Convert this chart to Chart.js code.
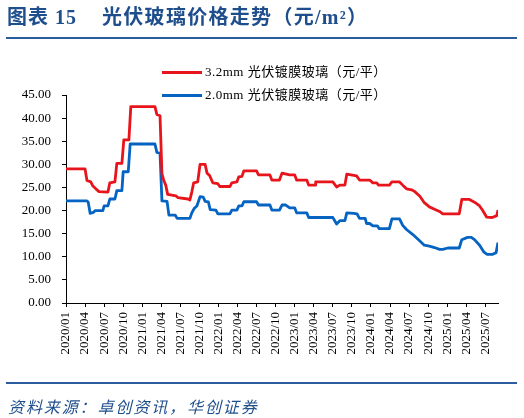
<!DOCTYPE html>
<html><head><meta charset="utf-8">
<script src="https://cdn.jsdelivr.net/npm/chart.js@4"></script>
<style>
html,body{margin:0;padding:0;background:#fff;}
#wrap{position:relative;width:524px;height:418px;overflow:hidden;background:#fff;}
canvas{position:absolute;left:0;top:0;}
.t{position:absolute;color:#1f4e8c;font-weight:bold;font-family:"Liberation Serif","Noto Sans CJK SC",serif;font-size:20px;top:5px;white-space:nowrap;line-height:24px;}
.rule{position:absolute;left:6px;width:511px;height:2px;background:#2b5c9e;}
.lg{position:absolute;left:162px;font-family:"Liberation Serif","Noto Sans CJK SC",serif;font-size:13px;letter-spacing:0.5px;color:#000;white-space:nowrap;line-height:16px;}
.lg i{display:inline-block;width:40px;height:3px;vertical-align:middle;margin-right:3px;position:relative;top:-1px;}
.src{position:absolute;left:8px;top:395px;font-family:"Noto Sans CJK SC",sans-serif;font-style:italic;font-size:16px;letter-spacing:1.9px;color:#1f4e8c;white-space:nowrap;line-height:22px;}
</style></head>
<body><div id="wrap">
<canvas id="c" width="524" height="418"></canvas>
<div class="t" style="left:7px;letter-spacing:1px;">图表 15</div>
<div class="t" style="left:102px;letter-spacing:1.3px;">光伏玻璃价格走势（元/m²）</div>
<div class="rule" style="top:37px;"></div>
<div class="lg" style="top:64px;"><i style="background:#e8141c"></i><span id="l1"></span></div>
<div class="lg" style="top:87px;"><i style="background:#0563c1"></i><span id="l2"></span></div>
<div class="rule" style="top:382px;"></div>
<div class="src">资料来源：卓创资讯，华创证券</div>
</div>
<script>
const seriesNames = ['3.2mm 光伏镀膜玻璃（元/平）', '2.0mm 光伏镀膜玻璃（元/平）'];
const tickLabels = ['2020/01','2020/04','2020/07','2020/10','2021/01','2021/04','2021/07','2021/10','2022/01','2022/04','2022/07','2022/10','2023/01','2023/04','2023/07','2023/10','2024/01','2024/04','2024/07','2024/10','2025/01','2025/04','2025/07'];

const redDates = ['2020/01/01','2020/04/01','2020/04/10','2020/04/28','2020/05/08','2020/05/22','2020/06/07','2020/07/19','2020/07/28','2020/08/22','2020/09/01','2020/09/25','2020/10/04','2020/10/28','2020/11/07','2021/03/01','2021/03/10','2021/03/25','2021/04/04','2021/04/13','2021/04/22','2021/05/01','2021/06/10','2021/06/19','2021/08/07','2021/08/16','2021/08/25','2021/09/04','2021/09/23','2021/10/04','2021/10/28','2021/11/07','2021/11/19','2021/12/04','2021/12/28','2022/01/07','2022/02/25','2022/03/04','2022/03/28','2022/04/07','2022/04/22','2022/05/01','2022/07/01','2022/07/10','2022/09/04','2022/09/13','2022/10/19','2022/11/01','2022/12/07','2023/01/01','2023/01/10','2023/02/28','2023/03/07','2023/04/07','2023/04/10','2023/07/01','2023/07/19','2023/08/04','2023/08/28','2023/09/07','2023/10/23','2023/11/07','2023/12/25','2024/01/10','2024/01/28','2024/02/07','2024/03/28','2024/04/10','2024/05/16','2024/06/01','2024/06/19','2024/07/13','2024/07/28','2024/08/22','2024/09/13','2024/10/07','2024/11/01','2024/11/25','2024/12/10','2025/02/28','2025/03/10','2025/04/16','2025/05/10','2025/06/04','2025/06/19','2025/07/07','2025/08/04','2025/08/25','2025/09/01'];
const redValues = [29.0,29.0,26.5,26.2,25.3,24.7,24.1,24.0,26.0,26.2,30.2,30.2,35.3,35.3,42.5,42.5,40.8,40.5,28.0,26.5,25.5,23.5,23.2,22.8,22.5,22.3,24.0,26.0,26.2,30.0,30.0,28.1,27.6,26.0,25.8,25.2,25.2,26.0,26.2,27.3,27.4,28.6,28.6,27.7,27.7,26.6,26.6,28.1,27.7,27.7,26.6,26.6,25.5,25.5,26.2,26.2,25.1,25.5,25.5,27.9,27.5,26.6,26.6,26.0,26.0,25.5,25.5,26.2,26.2,25.5,24.7,24.5,24.1,23.1,21.7,20.8,20.3,19.8,19.3,19.3,22.4,22.4,21.8,21.0,20.0,18.6,18.5,18.9,20.1];

const blueDates = ['2020/01/01','2020/04/10','2020/04/16','2020/04/25','2020/05/10','2020/05/19','2020/06/25','2020/07/01','2020/07/19','2020/07/28','2020/08/22','2020/09/01','2020/09/25','2020/10/01','2020/10/25','2020/11/04','2021/03/01','2021/03/10','2021/03/25','2021/04/04','2021/04/28','2021/05/07','2021/06/07','2021/06/16','2021/08/16','2021/08/25','2021/09/07','2021/09/19','2021/10/04','2021/10/19','2021/10/28','2021/11/13','2021/11/22','2021/12/19','2021/12/28','2022/02/25','2022/03/04','2022/03/28','2022/04/07','2022/04/22','2022/05/01','2022/07/01','2022/07/10','2022/09/04','2022/09/13','2022/10/19','2022/11/01','2022/11/19','2022/12/07','2023/01/01','2023/01/10','2023/02/28','2023/03/07','2023/07/01','2023/07/19','2023/08/04','2023/08/28','2023/09/07','2023/10/10','2023/10/25','2023/11/07','2023/12/04','2023/12/10','2023/12/25','2024/01/10','2024/02/01','2024/02/10','2024/03/28','2024/04/10','2024/05/16','2024/06/01','2024/06/19','2024/07/19','2024/08/22','2024/09/13','2024/10/07','2024/11/01','2024/11/25','2024/12/10','2025/01/04','2025/02/28','2025/03/10','2025/04/07','2025/04/25','2025/05/10','2025/06/04','2025/06/25','2025/07/10','2025/08/04','2025/08/22','2025/09/01'];
const blueValues = [22.1,22.1,21.8,19.4,19.6,20.0,20.0,21.0,21.0,22.5,22.5,24.3,24.3,28.4,28.4,34.4,34.4,32.6,32.4,22.1,22.0,19.0,19.0,18.3,18.3,19.5,20.5,21.0,23.0,22.9,22.0,21.9,20.2,20.1,19.3,19.3,20.1,20.1,21.0,21.0,21.9,21.9,21.2,21.2,20.1,20.1,21.2,21.2,20.6,20.6,19.5,19.5,18.5,18.5,17.1,17.8,17.8,19.5,19.4,19.3,18.3,18.3,17.2,17.2,16.7,16.7,16.1,16.1,18.2,18.2,16.8,15.9,14.8,13.4,12.5,12.3,12.0,11.6,11.6,11.9,11.9,13.7,14.2,14.2,13.7,12.5,11.0,10.5,10.5,10.9,13.1];

function toMonth(s){
  const p = s.split('/').map(Number);
  const d = p.length > 2 ? p[2] : 1;
  return (p[0]-2020)*12 + (p[1]-1) + (d-1)/30;
}
function pts(dates, vals){ return dates.map((d,i)=>({x:toMonth(d), y:vals[i]})); }

document.getElementById('l1').textContent = seriesNames[0];
document.getElementById('l2').textContent = seriesNames[1];

const numFont = {family:'"Liberation Serif", "Times New Roman", serif', size:13};
new Chart(document.getElementById('c'), {
  type:'line',
  data:{datasets:[
    {label:seriesNames[0], data:pts(redDates, redValues), borderColor:'#e8141c', backgroundColor:'#e8141c', borderWidth:2.8, pointRadius:0, tension:0, fill:false, borderJoinStyle:'round'},
    {label:seriesNames[1], data:pts(blueDates, blueValues), borderColor:'#0563c1', backgroundColor:'#0563c1', borderWidth:2.8, pointRadius:0, tension:0, fill:false, borderJoinStyle:'round'}
  ]},
  options:{
    responsive:false, animation:false, devicePixelRatio:1,
    layout:{padding:{left:0, top:95, right:26, bottom:55}},
    plugins:{legend:{display:false}, tooltip:{enabled:false}},
    scales:{
      x:{type:'linear', min:0, max:68,
        afterBuildTicks:(s)=>{ s.ticks = tickLabels.map(l=>({value:toMonth(l)})); },
        ticks:{autoSkip:false, maxRotation:90, minRotation:90, padding:5, color:'#000', font:numFont,
          callback:(v,i)=>tickLabels[i]},
        grid:{display:true, drawOnChartArea:false, drawTicks:true, tickLength:4, color:'#000', lineWidth:1},
        border:{display:true, color:'#000', width:1},
        afterFit:(s)=>{ s.height = 60; }
      },
      y:{min:0, max:45,
        ticks:{stepSize:5, padding:11, color:'#000', font:numFont, callback:(v)=>Number(v).toFixed(2)},
        grid:{display:true, drawOnChartArea:false, drawTicks:true, tickLength:4, color:'#000', lineWidth:1},
        border:{display:true, color:'#000', width:1},
        afterFit:(s)=>{ s.width = 66; }
      }
    }
  }
});
</script>
</body></html>
